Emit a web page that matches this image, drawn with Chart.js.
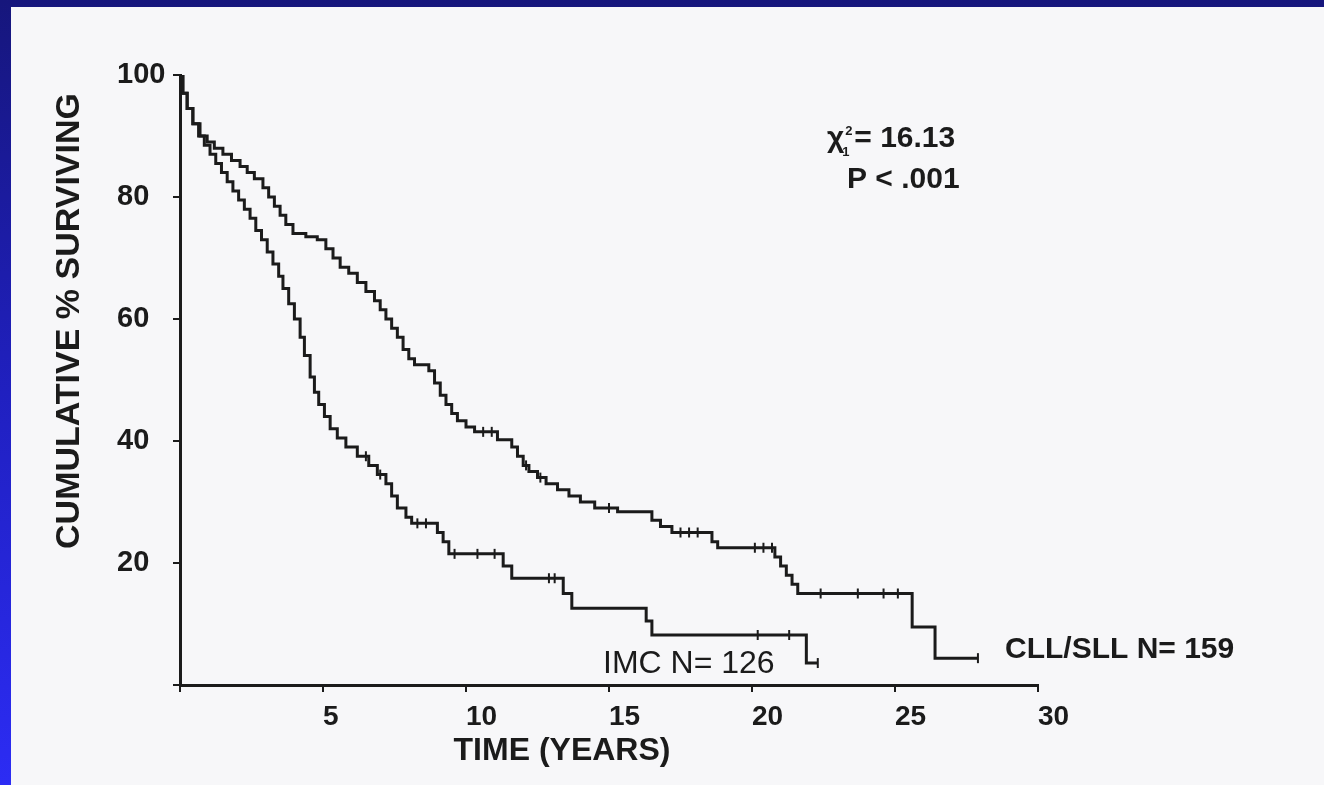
<!DOCTYPE html>
<html>
<head>
<meta charset="utf-8">
<script src="https://cdn.jsdelivr.net/npm/chart.js@4.4.1/dist/chart.umd.min.js"></script>
<style>
  html, body { margin: 0; padding: 0; }
  body {
    width: 1324px; height: 785px; overflow: hidden; position: relative;
    background: linear-gradient(to bottom, #16167c 0%, #2020c0 50%, #2c2cf4 100%);
  }
  #papier { position: absolute; left: 11px; top: 7px; width: 1313px; height: 778px; background: #f7f7f9; }
</style>
</head>
<body>
<div id="papier"><canvas id="chartSurvie"></canvas></div>
<script>
// Courbes de survie (temps en années, % survivants)
const tempsCLL = [0, 0.1, 0.25, 0.45, 0.7, 0.95, 1.2, 1.5, 1.8, 2.1, 2.35, 2.6, 2.9, 3.1, 3.3,
  3.5, 3.7, 3.95, 4.4, 4.8, 5.1, 5.35, 5.6, 5.9, 6.2, 6.5, 6.8, 7.0, 7.2, 7.4,
  7.6, 7.8, 8.0, 8.2, 8.7, 8.9, 9.1, 9.3, 9.5, 9.7, 10.0, 10.3, 11.1, 11.6, 11.8,
  12.0, 12.2, 12.5, 12.8, 13.2, 13.6, 14.0, 14.5, 15.3, 16.5, 16.8, 17.2, 18.6, 18.8, 20.8,
  21.0, 21.2, 21.4, 21.6, 25.6, 26.4, 27.9];
const survieCLL = [100, 97, 94.5, 92, 90, 89, 88, 87, 86, 85, 84, 83, 81.5, 80, 78.5,
  77, 75.5, 74, 73.5, 73, 71.5, 70, 68.5, 67.5, 66, 64.5, 63, 61.5, 60, 58.5,
  57, 55, 53.5, 52.5, 51.5, 49.5, 47.5, 46, 44.5, 43.3, 42.3, 41.5, 40.2, 39, 37.5,
  36, 35, 34, 33, 32, 31, 30, 29, 28.4, 27, 26, 25, 23.5, 22.5, 21,
  19.5, 18, 16.5, 15, 9.5, 4.4, 4.4];

const tempsIMC = [0, 0.1, 0.25, 0.45, 0.65, 0.85, 1.05, 1.25, 1.45, 1.65, 1.85, 2.05, 2.25, 2.45, 2.65,
  2.85, 3.05, 3.25, 3.45, 3.6, 3.8, 4.0, 4.2, 4.35, 4.55, 4.7, 4.85, 5.05, 5.25, 5.5,
  5.8, 6.2, 6.6, 6.9, 7.2, 7.4, 7.6, 7.9, 8.1, 9.0, 9.2, 9.4, 11.3, 11.6, 13.4,
  13.7, 16.3, 16.5, 21.9, 22.3];
const survieIMC = [100, 97, 94.5, 92, 90, 88.5, 87, 85.5, 84, 82.5, 81, 79.5, 78, 76.5, 74.5,
  73, 71, 69, 67, 65, 62.5, 60, 57, 54, 50.5, 48, 46, 44, 42, 40.5,
  39, 37.5, 36, 34.5, 33, 31, 29, 27.5, 26.5, 25, 23.5, 21.5, 19.5, 17.5, 15,
  12.6, 10.5, 8.2, 3.6, 3.6];

// Observations censurées (petits traits verticaux)
const censureTempsCLL = [10.6, 10.9, 12.1, 12.6, 15.0, 17.5, 17.8, 18.1, 20.1, 20.4, 20.7, 22.4, 23.7, 24.6, 25.1, 27.9];
const censureSurvieCLL = [41.5, 41.5, 36, 34, 29, 25, 25, 25, 22.5, 22.5, 22.5, 15, 15, 15, 15, 4.4];
const censureTempsIMC = [6.5, 7.0, 8.3, 8.6, 9.6, 10.4, 11.0, 12.9, 13.1, 20.2, 21.3, 22.3];
const censureSurvieIMC = [37.5, 34.5, 26.5, 26.5, 21.5, 21.5, 21.5, 17.5, 17.5, 8.2, 8.2, 3.6];

const ticksX = [5, 10, 15, 20, 25, 30];
const ticksY = [20, 40, 60, 80, 100];

const POLICE = '"Liberation Sans", Arial, sans-serif';
const ENCRE = "#1b1b1b";

function points(temps, valeurs) {
  return temps.map((t, i) => ({ x: t, y: valeurs[i] }));
}

const textes = {
  id: "textes",
  afterDraw(chart) {
    const ctx = chart.ctx;
    ctx.save();
    ctx.fillStyle = ENCRE;
    ctx.textAlign = "left";
    ctx.textBaseline = "alphabetic";

    // chi carré
    ctx.font = "bold 30px " + POLICE;
    const wChi = ctx.measureText("χ").width;
    ctx.fillText("χ", 816, 140);
    ctx.font = "bold 13px " + POLICE;
    ctx.fillText("2", 816 + wChi + 1, 128);
    ctx.fillText("1", 816 + wChi - 2, 149);
    ctx.font = "bold 30px " + POLICE;
    ctx.fillText("= 16.13", 816 + wChi + 10, 140);
    ctx.fillText("P < .001", 836, 181);

    // étiquettes des groupes
    ctx.font = "32px " + POLICE;
    ctx.fillText("IMC N= 126", 592, 666);
    ctx.font = "bold 30px " + POLICE;
    ctx.fillText("CLL/SLL N= 159", 994, 651);

    // titres des axes
    ctx.textAlign = "center";
    ctx.textBaseline = "middle";
    ctx.font = "bold 32px " + POLICE;
    ctx.fillText("TIME (YEARS)", 551, 744);
    ctx.translate(59, 314);
    ctx.rotate(-Math.PI / 2);
    ctx.font = "bold 34px " + POLICE;
    ctx.fillText("CUMULATIVE % SURVIVING", 0, 0);
    ctx.restore();
  }
};

new Chart(document.getElementById("chartSurvie"), {
  type: "line",
  data: {
    datasets: [
      {
        label: "CLL/SLL",
        data: points(tempsCLL, survieCLL),
        stepped: "before",
        borderColor: ENCRE,
        borderWidth: 3,
        pointRadius: 0,
        fill: false
      },
      {
        label: "IMC",
        data: points(tempsIMC, survieIMC),
        stepped: "before",
        borderColor: ENCRE,
        borderWidth: 3,
        pointRadius: 0,
        fill: false
      },
      {
        label: "Censure CLL/SLL",
        data: points(censureTempsCLL, censureSurvieCLL),
        showLine: false,
        pointStyle: "line",
        pointRotation: 90,
        pointRadius: 5,
        pointBorderWidth: 2,
        borderColor: ENCRE
      },
      {
        label: "Censure IMC",
        data: points(censureTempsIMC, censureSurvieIMC),
        showLine: false,
        pointStyle: "line",
        pointRotation: 90,
        pointRadius: 5,
        pointBorderWidth: 2,
        borderColor: ENCRE
      }
    ]
  },
  options: {
    responsive: true,
    maintainAspectRatio: false,
    animation: false,
    layout: { padding: { left: 106, top: 68, right: 286, bottom: 0 } },
    plugins: { legend: { display: false }, tooltip: { enabled: false } },
    scales: {
      x: {
        type: "linear",
        min: 0,
        max: 30,
        afterFit: scale => { scale.height = 100; },
        afterBuildTicks: scale => { scale.ticks = [0].concat(ticksX).map(v => ({ value: v })); },
        ticks: {
          align: "start",
          padding: 8,
          color: ENCRE,
          font: { family: POLICE, size: 28, weight: "bold" },
          callback: v => (ticksX.includes(v) ? String(v) : "")
        },
        grid: { drawOnChartArea: false, drawTicks: true, tickLength: 7, color: ENCRE, lineWidth: 2 },
        border: { display: true, color: ENCRE, width: 3 }
      },
      y: {
        min: 0,
        max: 100,
        afterFit: scale => { scale.width = 63; },
        afterBuildTicks: scale => { scale.ticks = [0].concat(ticksY).map(v => ({ value: v })); },
        ticks: {
          crossAlign: "far",
          padding: 8,
          color: ENCRE,
          font: { family: POLICE, size: 29, weight: "bold" },
          callback: v => (ticksY.includes(v) ? String(v) : "")
        },
        grid: { drawOnChartArea: false, drawTicks: true, tickLength: 7, color: ENCRE, lineWidth: 2 },
        border: { display: true, color: ENCRE, width: 3 }
      }
    }
  },
  plugins: [textes]
});
</script>
</body>
</html>
